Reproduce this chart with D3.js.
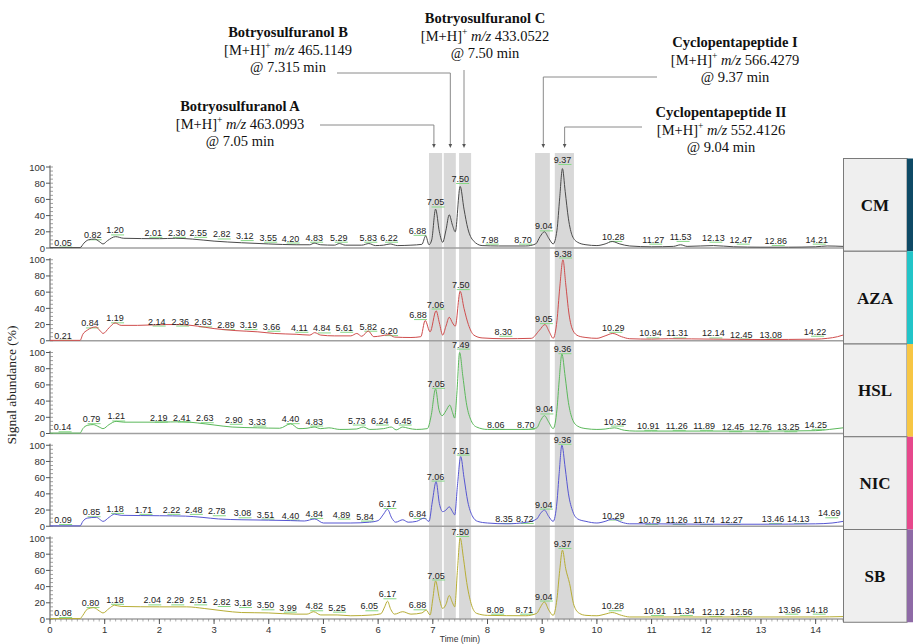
<!DOCTYPE html>
<html>
<head>
<meta charset="utf-8">
<script src="https://cdn.jsdelivr.net/npm/d3@7"></script>
<style>
  body { margin: 0; background: #fff; }
  svg { display: block; }
</style>
</head>
<body>
<svg width="918" height="644"></svg>
<script>
// samples, top to bottom
var samples = ["CM", "AZA", "HSL", "NIC", "SB"];

// chromatogram traces: [time (min), abundance (%)]
var cmTrace = [[0,0.5],[0.55,0.5],[0.62,6],[0.7,10],[0.82,11],[0.9,8],[0.97,5],[1.05,9],[1.2,14],[1.35,12],[2.0,11.5],[2.3,12],[2.6,11],[3.0,8.5],[3.5,6.5],[4.0,5],[4.5,4],[4.75,4],[4.83,6],[4.95,4],[5.2,3.5],[5.29,5.5],[5.4,3.5],[5.7,3.5],[5.83,5.5],[5.95,3],[6.1,3.5],[6.22,5],[6.35,3],[6.6,3.5],[6.8,4.5],[6.87,15],[6.93,4],[6.98,10],[7.05,48],[7.12,20],[7.18,7],[7.24,22],[7.3,41],[7.36,28],[7.41,20],[7.5,76],[7.57,48],[7.64,24],[7.74,9],[7.9,3],[8.2,2.5],[8.7,2.5],[8.88,5],[8.96,14],[9.04,20],[9.12,12],[9.2,5],[9.27,22],[9.32,62],[9.37,98],[9.42,70],[9.48,36],[9.55,15],[9.65,7],[9.8,4],[10.0,3],[10.15,5],[10.28,8],[10.42,5],[10.6,2.5],[11.0,1.5],[11.4,2],[11.53,4],[11.65,2],[12.13,3],[12.5,1.5],[13.0,1],[13.5,1],[14.0,1.5],[14.21,2.5],[14.5,2]];
var azaTrace = [[0,0.5],[0.55,0.5],[0.6,8],[0.68,13],[0.84,17],[0.92,12],[0.97,9],[1.08,16],[1.19,22],[1.3,19],[1.6,19],[2.1,20],[2.36,20],[2.7,18],[3.0,15],[3.4,12.5],[3.8,11],[4.1,9],[4.5,8],[4.75,7],[4.84,10],[4.95,7],[5.2,6],[5.5,6],[5.61,9],[5.7,5.5],[5.82,12],[5.92,5],[6.05,6],[6.2,7.5],[6.3,4.5],[6.6,4],[6.78,5],[6.86,25],[6.95,11],[7.06,37],[7.12,22],[7.18,7],[7.24,18],[7.3,29],[7.36,22],[7.41,18],[7.5,61],[7.57,40],[7.65,20],[7.75,7],[7.9,3.5],[8.3,2.5],[8.8,3],[8.95,13],[9.05,20],[9.13,11],[9.2,3],[9.27,25],[9.32,65],[9.38,100],[9.43,70],[9.49,33],[9.56,13],[9.66,6],[9.8,4],[10.0,3],[10.15,6],[10.29,9],[10.45,5],[10.6,2.5],[11.0,2],[11.31,2.5],[12.14,2],[13.0,1.5],[14.0,2],[14.22,3],[14.4,5],[14.5,7]];
var hslTrace = [[0,0.5],[0.55,0.5],[0.6,6],[0.68,10],[0.79,11],[0.9,8],[0.97,6],[1.08,11],[1.21,15],[1.35,14],[2.0,14],[2.41,14.5],[2.7,13],[3.0,10.5],[3.33,8],[3.8,7],[4.2,6.5],[4.4,12],[4.55,6],[4.7,6.5],[4.83,8],[4.95,6],[5.1,7],[5.3,5],[5.6,5.5],[5.73,8],[5.85,5],[6.1,6],[6.24,8],[6.33,4.5],[6.45,8],[6.55,6.5],[6.7,5],[6.9,6],[6.97,22],[7.05,55],[7.11,30],[7.17,22],[7.24,28],[7.31,35],[7.36,26],[7.4,19],[7.44,50],[7.49,100],[7.55,70],[7.62,35],[7.7,16],[7.8,8],[8.0,5],[8.7,5],[8.9,7],[8.97,16],[9.04,22],[9.12,14],[9.2,6],[9.27,30],[9.31,65],[9.36,98],[9.42,70],[9.48,38],[9.55,18],[9.65,9],[9.8,6],[10.0,5],[10.15,5.5],[10.32,7],[10.5,4],[10.7,3],[11.0,3],[12.0,3],[13.0,3],[14.0,3.5],[14.25,5],[14.5,7]];
var nicTrace = [[0,0.5],[0.55,0.5],[0.6,6],[0.68,10],[0.85,11],[0.92,8],[0.97,6],[1.08,11],[1.18,15],[1.3,13.5],[2.0,13],[2.48,12.5],[2.78,11],[3.08,9],[3.51,8],[4.0,7.5],[4.4,7],[4.65,6.5],[4.84,9],[5.0,4],[5.5,4],[5.84,5],[6.0,7],[6.1,15],[6.17,21],[6.25,10],[6.32,5],[6.45,8],[6.55,5],[6.7,6],[6.84,10],[6.93,6],[6.99,30],[7.06,55],[7.12,28],[7.18,18],[7.24,20],[7.3,24],[7.36,18],[7.4,14],[7.45,50],[7.51,86],[7.57,60],[7.64,30],[7.72,13],[7.82,6],[8.0,4],[8.35,3],[8.72,5],[8.9,9],[8.97,16],[9.04,20],[9.12,12],[9.2,6],[9.27,30],[9.31,65],[9.36,100],[9.42,72],[9.48,40],[9.56,18],[9.65,9],[9.8,6],[10.0,4],[10.15,6],[10.29,9],[10.45,5],[10.6,3],[11.0,3],[12.0,2.5],[13.0,2.5],[14.0,3],[14.3,4],[14.5,6]];
var sbTrace = [[0,0.5],[0.55,0.5],[0.6,4.5],[0.68,12],[0.8,14],[0.9,10],[0.97,7.5],[1.08,13],[1.18,17],[1.3,15.5],[2.0,15],[2.5,15],[2.82,13],[3.18,10],[3.5,8],[3.99,7.5],[4.5,6],[4.7,6],[4.82,9],[4.95,5],[5.25,5],[5.5,4],[5.9,5],[6.05,6.5],[6.12,15],[6.17,22],[6.23,12],[6.3,6],[6.45,9],[6.6,6],[6.8,7.5],[6.88,11],[6.95,5],[7.0,25],[7.05,47],[7.12,25],[7.18,13],[7.24,18],[7.3,29],[7.36,20],[7.4,15],[7.45,60],[7.5,100],[7.56,75],[7.62,45],[7.7,19],[7.8,7],[8.0,4.5],[8.7,4],[8.9,7],[8.97,15],[9.04,21],[9.12,11],[9.2,4.5],[9.27,25],[9.32,60],[9.37,85],[9.43,62],[9.5,44],[9.58,17],[9.68,7],[9.8,4.5],[10.0,4],[10.15,6],[10.28,8],[10.45,4.5],[10.6,2.5],[11.0,2.5],[12.0,2.5],[13.0,2.5],[14.0,2.5],[14.5,3]];

// peak labels: [text, time where the label sits, abundance of its baseline]
var cmLabels = [["0.05",0.24,3],["0.82",0.78,12],["1.20",1.19,18],["2.01",1.89,15],["2.30",2.32,15],["2.55",2.71,15],["2.82",3.14,13],["3.12",3.56,11],["3.55",3.99,9],["4.20",4.40,8],["4.83",4.83,9],["5.29",5.28,9],["5.83",5.82,9],["6.22",6.20,9],["6.88",6.72,17.5],["7.05",7.05,52.5],["7.50",7.50,81.5],["7.98",8.04,6.6],["8.70",8.65,6.6],["9.04",9.03,23],["9.37",9.37,105],["10.28",10.30,10],["11.27",11.03,6.6],["11.53",11.53,10],["12.13",12.13,9],["12.47",12.63,6.6],["12.86",13.27,5],["14.21",14.02,6.6]];
var azaLabels = [["0.21",0.24,2.5],["0.84",0.73,17.7],["1.19",1.19,24],["2.14",1.95,20],["2.36",2.38,20],["2.63",2.80,19],["2.89",3.22,15.6],["3.19",3.63,15.6],["3.66",4.05,13.6],["4.11",4.56,12.3],["4.84",4.97,11.5],["5.61",5.38,12.3],["5.82",5.82,13.6],["6.20",6.20,8.2],["6.88",6.73,28],["7.06",7.05,41],["7.50",7.51,65],["8.30",8.29,7.4],["9.05",9.03,23],["9.38",9.38,104],["10.29",10.30,12.3],["10.94",10.98,5.3],["11.31",11.47,5.3],["12.14",12.13,5.3],["12.45",12.64,4],["13.08",13.18,4],["14.22",13.99,7.4]];
var hslLabels = [["0.14",0.23,4],["0.79",0.76,14],["1.21",1.21,17.3],["2.19",1.99,16],["2.41",2.41,16],["2.63",2.83,15.2],["2.90",3.36,13.2],["3.33",3.79,11],["4.40",4.40,14],["4.83",4.83,11],["5.73",5.61,12.3],["6.24",6.03,12.3],["6.45",6.45,12.3],["7.05",7.06,57.6],["7.49",7.51,106],["8.06",8.15,7],["8.70",8.70,7],["9.04",9.04,26],["9.36",9.37,100.4],["10.32",10.33,11],["10.91",10.94,5.8],["11.26",11.46,5.8],["11.89",11.96,5.8],["12.45",12.49,4],["12.76",12.99,4],["13.25",13.50,4],["14.25",14.0,7]];
var nicLabels = [["0.09",0.24,4],["0.85",0.76,13.6],["1.18",1.19,17.7],["1.71",1.71,16.5],["2.22",2.22,16.5],["2.48",2.63,16.5],["2.78",3.05,14.8],["3.08",3.52,12.3],["3.51",3.94,10.7],["4.40",4.40,9.5],["4.84",4.83,11.5],["4.89",5.33,10.7],["5.84",5.76,8.2],["6.17",6.17,23.8],["6.84",6.72,11.5],["7.06",7.05,57.6],["7.51",7.51,89.7],["8.35",8.30,5.3],["8.72",8.68,5.3],["9.04",9.03,23],["9.36",9.37,103],["10.29",10.30,9.5],["10.79",10.96,4],["11.26",11.46,4],["11.74",11.96,4],["12.27",12.46,4],["13.46",13.22,5.3],["14.13",13.68,5.3],["14.69",14.25,12.3]];
var sbLabels = [["0.08",0.24,3.7],["0.80",0.74,16],["1.18",1.19,20],["2.04",1.87,19.3],["2.29",2.29,19.3],["2.51",2.71,19.3],["2.82",3.14,17.3],["3.18",3.53,16],["3.50",3.94,13.2],["3.99",4.35,10.3],["4.82",4.83,12],["5.25",5.25,10.3],["6.05",5.84,12],["6.17",6.17,26.8],["6.88",6.72,13.2],["7.05",7.06,50],["7.50",7.50,103.7],["8.09",8.14,7.8],["8.71",8.67,7.8],["9.04",9.03,24],["9.37",9.37,89],["10.28",10.29,12],["10.91",11.06,6.2],["11.34",11.59,6.2],["12.12",12.13,5],["12.56",12.64,5],["13.96",13.52,7.8],["14.18",14.02,7.8]];

// shaded retention windows [start, end] in min
var windows = [[6.93,7.17],[7.20,7.42],[7.48,7.70],[8.87,9.14],[9.23,9.58]];

// annotated compounds
var compounds = ["Botryosulfuranol A", "Botryosulfuranol B", "Botryosulfuranol C", "Cyclopentapeptide I", "Cyclopentapeptide II"];
var mzValues = ["463.0993", "465.1149", "433.0522", "566.4279", "552.4126"];
var rtValues = ["7.05", "7.315", "7.50", "9.37", "9.04"];
var arrowTimes = [7.02, 7.32, 7.57, 9.02, 9.41];

var xTicks = d3.range(0, 15, 1);
var yTicks = [0, 20, 40, 60, 80, 100];

var traces = [cmTrace, azaTrace, hslTrace, nicTrace, sbTrace];
var labels = [cmLabels, azaLabels, hslLabels, nicLabels, sbLabels];
var traceColors = ["#4a4a4a", "#cf4d4d", "#5bb85b", "#5656d2", "#b7ad35"];
var stripColors = ["#0e4a66", "#22c4c8", "#f7c644", "#e6488c", "#8e6aa6"];

var svg = d3.select("svg");
var sans = "'Liberation Sans', Arial, sans-serif";
var serif = "'Liberation Serif', 'Times New Roman', serif";

var x = d3.scaleLinear().domain([0, 14.5]).range([50, 843]);
var panelStep = 92.75;
function bottomOf(i) { return 248 + i * panelStep; }
function yScale(i) {
    var b = bottomOf(i);
    return d3.scaleLinear().domain([0, 100]).range([b, b - 81]);
}

// shaded windows behind everything
svg.append("g").selectAll("rect")
    .data(windows)
    .enter().append("rect")
    .attr("x", d => x(d[0]))
    .attr("width", d => x(d[1]) - x(d[0]))
    .attr("y", 153)
    .attr("height", bottomOf(4) - 153)
    .attr("fill", "#d8d8d8");

var line = d3.line().curve(d3.curveMonotoneX);

samples.forEach(function(name, i) {
    var y = yScale(i);
    var b = bottomOf(i);
    var g = svg.append("g");

    // baseline separator
    g.append("line")
        .attr("x1", 50).attr("x2", 843)
        .attr("y1", b).attr("y2", b)
        .attr("stroke", "#a0a0a0").attr("stroke-width", 1.5);

    // y axis
    g.append("line")
        .attr("x1", 50).attr("x2", 50)
        .attr("y1", y(0)).attr("y2", y(102))
        .attr("stroke", "#555");
    g.selectAll(".minor")
        .data(d3.range(0, 101, 5))
        .enter().append("line")
        .attr("x1", 50).attr("x2", 53)
        .attr("y1", d => y(d)).attr("y2", d => y(d))
        .attr("stroke", "#777").attr("stroke-width", 0.7);
    g.selectAll(".major")
        .data(yTicks)
        .enter().append("line")
        .attr("x1", 46).attr("x2", 50)
        .attr("y1", d => y(d)).attr("y2", d => y(d))
        .attr("stroke", "#555");
    g.selectAll(".ylab")
        .data(yTicks)
        .enter().append("text")
        .attr("x", 45).attr("y", d => y(d) + 3.5)
        .attr("text-anchor", "end")
        .attr("font-family", sans).attr("font-size", 9.5)
        .attr("fill", "#333")
        .text(d => d);

    // integration marks under the labels
    g.selectAll(".mark")
        .data(labels[i])
        .enter().append("line")
        .attr("x1", d => x(d[1]) - 4).attr("x2", d => x(d[1]) + 9)
        .attr("y1", d => y(d[2]) + 1.5).attr("y2", d => y(d[2]) + 1.5)
        .attr("stroke", "#86d886").attr("stroke-width", 1);

    // trace
    g.append("path")
        .datum(traces[i].map(d => [x(d[0]), y(d[1])]))
        .attr("d", line)
        .attr("fill", "none")
        .attr("stroke", traceColors[i])
        .attr("stroke-width", 1);

    // peak labels
    g.selectAll(".plab")
        .data(labels[i])
        .enter().append("text")
        .attr("x", d => x(d[1])).attr("y", d => y(d[2]))
        .attr("text-anchor", "middle")
        .attr("font-family", sans).attr("font-size", 9)
        .attr("fill", "#222")
        .text(d => d[0]);

    // sample box on the right
    g.append("rect")
        .attr("x", 843.5).attr("y", b - 89.5)
        .attr("width", 63.5).attr("height", panelStep)
        .attr("fill", "#efefef").attr("stroke", "#7a7a7a").attr("stroke-width", 1);
    g.append("rect")
        .attr("x", 907).attr("y", b - 89.5)
        .attr("width", 6).attr("height", panelStep)
        .attr("fill", stripColors[i]);
    g.append("text")
        .attr("x", 875).attr("y", b - 89.5 + panelStep / 2 + 6)
        .attr("text-anchor", "middle")
        .attr("font-family", serif).attr("font-weight", "bold").attr("font-size", 17)
        .attr("fill", "#111")
        .text(name);
});

// x axis at the bottom
var xb = bottomOf(4);
var xg = svg.append("g");
xg.selectAll(".xminor")
    .data(d3.range(0, 14.55, 0.1))
    .enter().append("line")
    .attr("x1", d => x(d)).attr("x2", d => x(d))
    .attr("y1", xb).attr("y2", xb + 2.5)
    .attr("stroke", "#777").attr("stroke-width", 0.6);
xg.selectAll(".xmajor")
    .data(xTicks)
    .enter().append("line")
    .attr("x1", d => x(d)).attr("x2", d => x(d))
    .attr("y1", xb).attr("y2", xb + 5)
    .attr("stroke", "#555");
xg.selectAll(".xlab")
    .data(xTicks)
    .enter().append("text")
    .attr("x", d => x(d)).attr("y", xb + 14)
    .attr("text-anchor", "middle")
    .attr("font-family", sans).attr("font-size", 9.5)
    .attr("fill", "#333")
    .text(d => d);
xg.append("text")
    .attr("x", 460).attr("y", 642)
    .attr("text-anchor", "middle")
    .attr("font-family", sans).attr("font-size", 8.5)
    .attr("fill", "#333")
    .text("Time (min)");

// y title
svg.append("text")
    .attr("transform", "translate(16,385) rotate(-90)")
    .attr("text-anchor", "middle")
    .attr("font-family", serif).attr("font-size", 13.5)
    .attr("fill", "#222")
    .text("Signal abundance (%)");

// compound annotations with leader arrows
var notePos = [
    {cx: 240, y: 111, ly: 125, lx: 320},
    {cx: 288, y: 37, ly: 73, lx: 337},
    {cx: 485, y: 23, ly: 70, lx: null},
    {cx: 735, y: 47, ly: 77, lx: 657},
    {cx: 721, y: 117, ly: 127, lx: 642}
];
var tip = 148;
compounds.forEach(function(name, i) {
    var p = notePos[i];
    var g = svg.append("g").attr("font-family", serif).attr("fill", "#111");
    g.append("text")
        .attr("x", p.cx).attr("y", p.y)
        .attr("text-anchor", "middle")
        .attr("font-weight", "bold").attr("font-size", 14.5)
        .text(name);
    var t2 = g.append("text")
        .attr("x", p.cx).attr("y", p.y + 17.5)
        .attr("text-anchor", "middle")
        .attr("font-size", 14.5);
    t2.append("tspan").text("[M+H]");
    t2.append("tspan").attr("font-size", 9.5).attr("dy", -5.5).text("+");
    t2.append("tspan").attr("dy", 5.5).text(" ");
    t2.append("tspan").attr("font-style", "italic").text("m/z");
    t2.append("tspan").text(" " + mzValues[i]);
    g.append("text")
        .attr("x", p.cx).attr("y", p.y + 35)
        .attr("text-anchor", "middle")
        .attr("font-size", 14.5)
        .text("@ " + rtValues[i] + " min");

    var ax = x(arrowTimes[i]);
    var pts = p.lx === null ? [[ax, p.ly], [ax, tip - 3]] : [[p.lx, p.ly], [ax, p.ly], [ax, tip - 3]];
    svg.append("path")
        .attr("d", d3.line()(pts))
        .attr("fill", "none")
        .attr("stroke", "#8a8a8a").attr("stroke-width", 1);
    svg.append("path")
        .attr("d", "M" + (ax - 1.8) + "," + (tip - 4) + "L" + (ax + 1.8) + "," + (tip - 4) + "L" + ax + "," + tip + "Z")
        .attr("fill", "#555");
});
</script>
</body>
</html>
